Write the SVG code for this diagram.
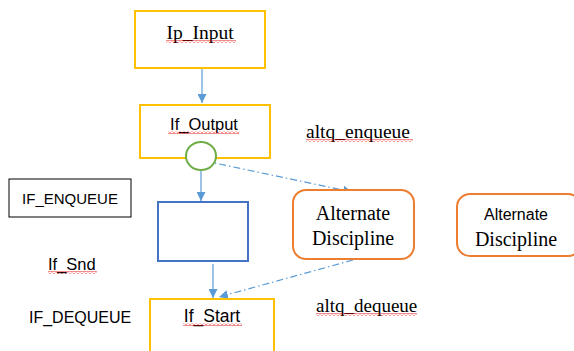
<svg xmlns="http://www.w3.org/2000/svg" width="574" height="351" viewBox="0 0 574 351">
<style>
.yb{fill:#fff;stroke:#FFC000;stroke-width:2}
.ob{fill:#fff;stroke:#ED7D31;stroke-width:2}
.serif{font-family:"Liberation Serif","Times New Roman",serif;fill:#000}
.sans{font-family:"Liberation Sans",Arial,sans-serif;fill:#000}
.con{stroke:#5B9BD5;stroke-width:1.2;fill:none}
.dd{stroke-dasharray:7 3 1.5 3}
.sq{fill:url(#wave)}
</style>
<defs>
<marker id="ah" viewBox="0 0 10 10" refX="10" refY="5" markerWidth="9" markerHeight="9" markerUnits="userSpaceOnUse" orient="auto">
<path d="M0,0 L10,5 L0,10 Z" fill="#5B9BD5"/>
</marker>
<pattern id="wave" patternUnits="userSpaceOnUse" width="4" height="3">
<path d="M0,2.5 L2,0.5 L4,2.5" fill="none" stroke="#E00000" stroke-width="0.9"/>
</pattern>
</defs>
<rect width="574" height="351" fill="#fff"/>

<g id="connectors">
<line class="con" x1="202" y1="69" x2="202" y2="103" marker-end="url(#ah)"/>
<line class="con" x1="201" y1="171" x2="201" y2="201" marker-end="url(#ah)"/>
<line class="con dd" x1="205" y1="161" x2="352" y2="192" marker-end="url(#ah)"/>
<line class="con" x1="213" y1="264" x2="213" y2="298" marker-end="url(#ah)"/>
<line class="con dd" x1="353" y1="260" x2="219" y2="297" marker-end="url(#ah)"/>
</g>

<g id="ip_input">
<rect class="yb" x="135" y="11" width="130" height="57"/>
<text class="serif" x="200" y="39" font-size="19.5" text-anchor="middle">Ip_Input</text>
<rect class="sq" x="166" y="40" width="70" height="3"/>
</g>

<g id="if_output">
<rect class="yb" x="140" y="105" width="130" height="53"/>
<text class="sans" x="204" y="130" font-size="16.5" text-anchor="middle">If_Output</text>
<rect class="sq" x="168" y="131" width="71" height="3"/>
</g>

<g id="circle">
<ellipse cx="201" cy="156" rx="15" ry="14" fill="#fff" stroke="#70AD47" stroke-width="2"/>
</g>

<g id="altq_enqueue">
<text class="serif" x="306" y="138" font-size="19.5">altq_enqueue</text>
<rect class="sq" x="306" y="139" width="107" height="3"/>
</g>

<g id="if_enqueue">
<rect x="9" y="179" width="122" height="38" fill="#fff" stroke="#000" stroke-width="1"/>
<text class="sans" x="70" y="204" font-size="15" text-anchor="middle">IF_ENQUEUE</text>
</g>

<g id="queue">
<rect x="158" y="202" width="90" height="59" fill="#fff" stroke="#4472C4" stroke-width="2"/>
</g>

<g id="alt1">
<rect class="ob" x="293" y="190" width="121" height="69" rx="13"/>
<text class="serif" x="353" y="220" font-size="20" text-anchor="middle">Alternate</text>
<text class="serif" x="353" y="245" font-size="20" text-anchor="middle">Discipline</text>
</g>

<g id="alt2">
<rect class="ob" x="457" y="194" width="124" height="62" rx="13"/>
<text class="sans" x="516" y="220" font-size="16" text-anchor="middle">Alternate</text>
<text class="serif" x="516" y="246" font-size="20" text-anchor="middle">Discipline</text>
</g>

<g id="if_snd">
<text class="sans" x="48" y="270" font-size="16.5">If_Snd</text>
<rect class="sq" x="48" y="271" width="49" height="3"/>
</g>

<g id="if_dequeue">
<text class="sans" x="29" y="323" font-size="16">IF_DEQUEUE</text>
</g>

<g id="if_start">
<rect class="yb" x="150" y="299" width="124" height="54"/>
<text class="sans" x="212" y="322" font-size="17.5" text-anchor="middle">If_Start</text>
<rect class="sq" x="183" y="323" width="59" height="3"/>
</g>

<g id="altq_dequeue">
<text class="serif" x="316" y="312" font-size="19">altq_dequeue</text>
<rect class="sq" x="316" y="313" width="101" height="3"/>
</g>
</svg>
